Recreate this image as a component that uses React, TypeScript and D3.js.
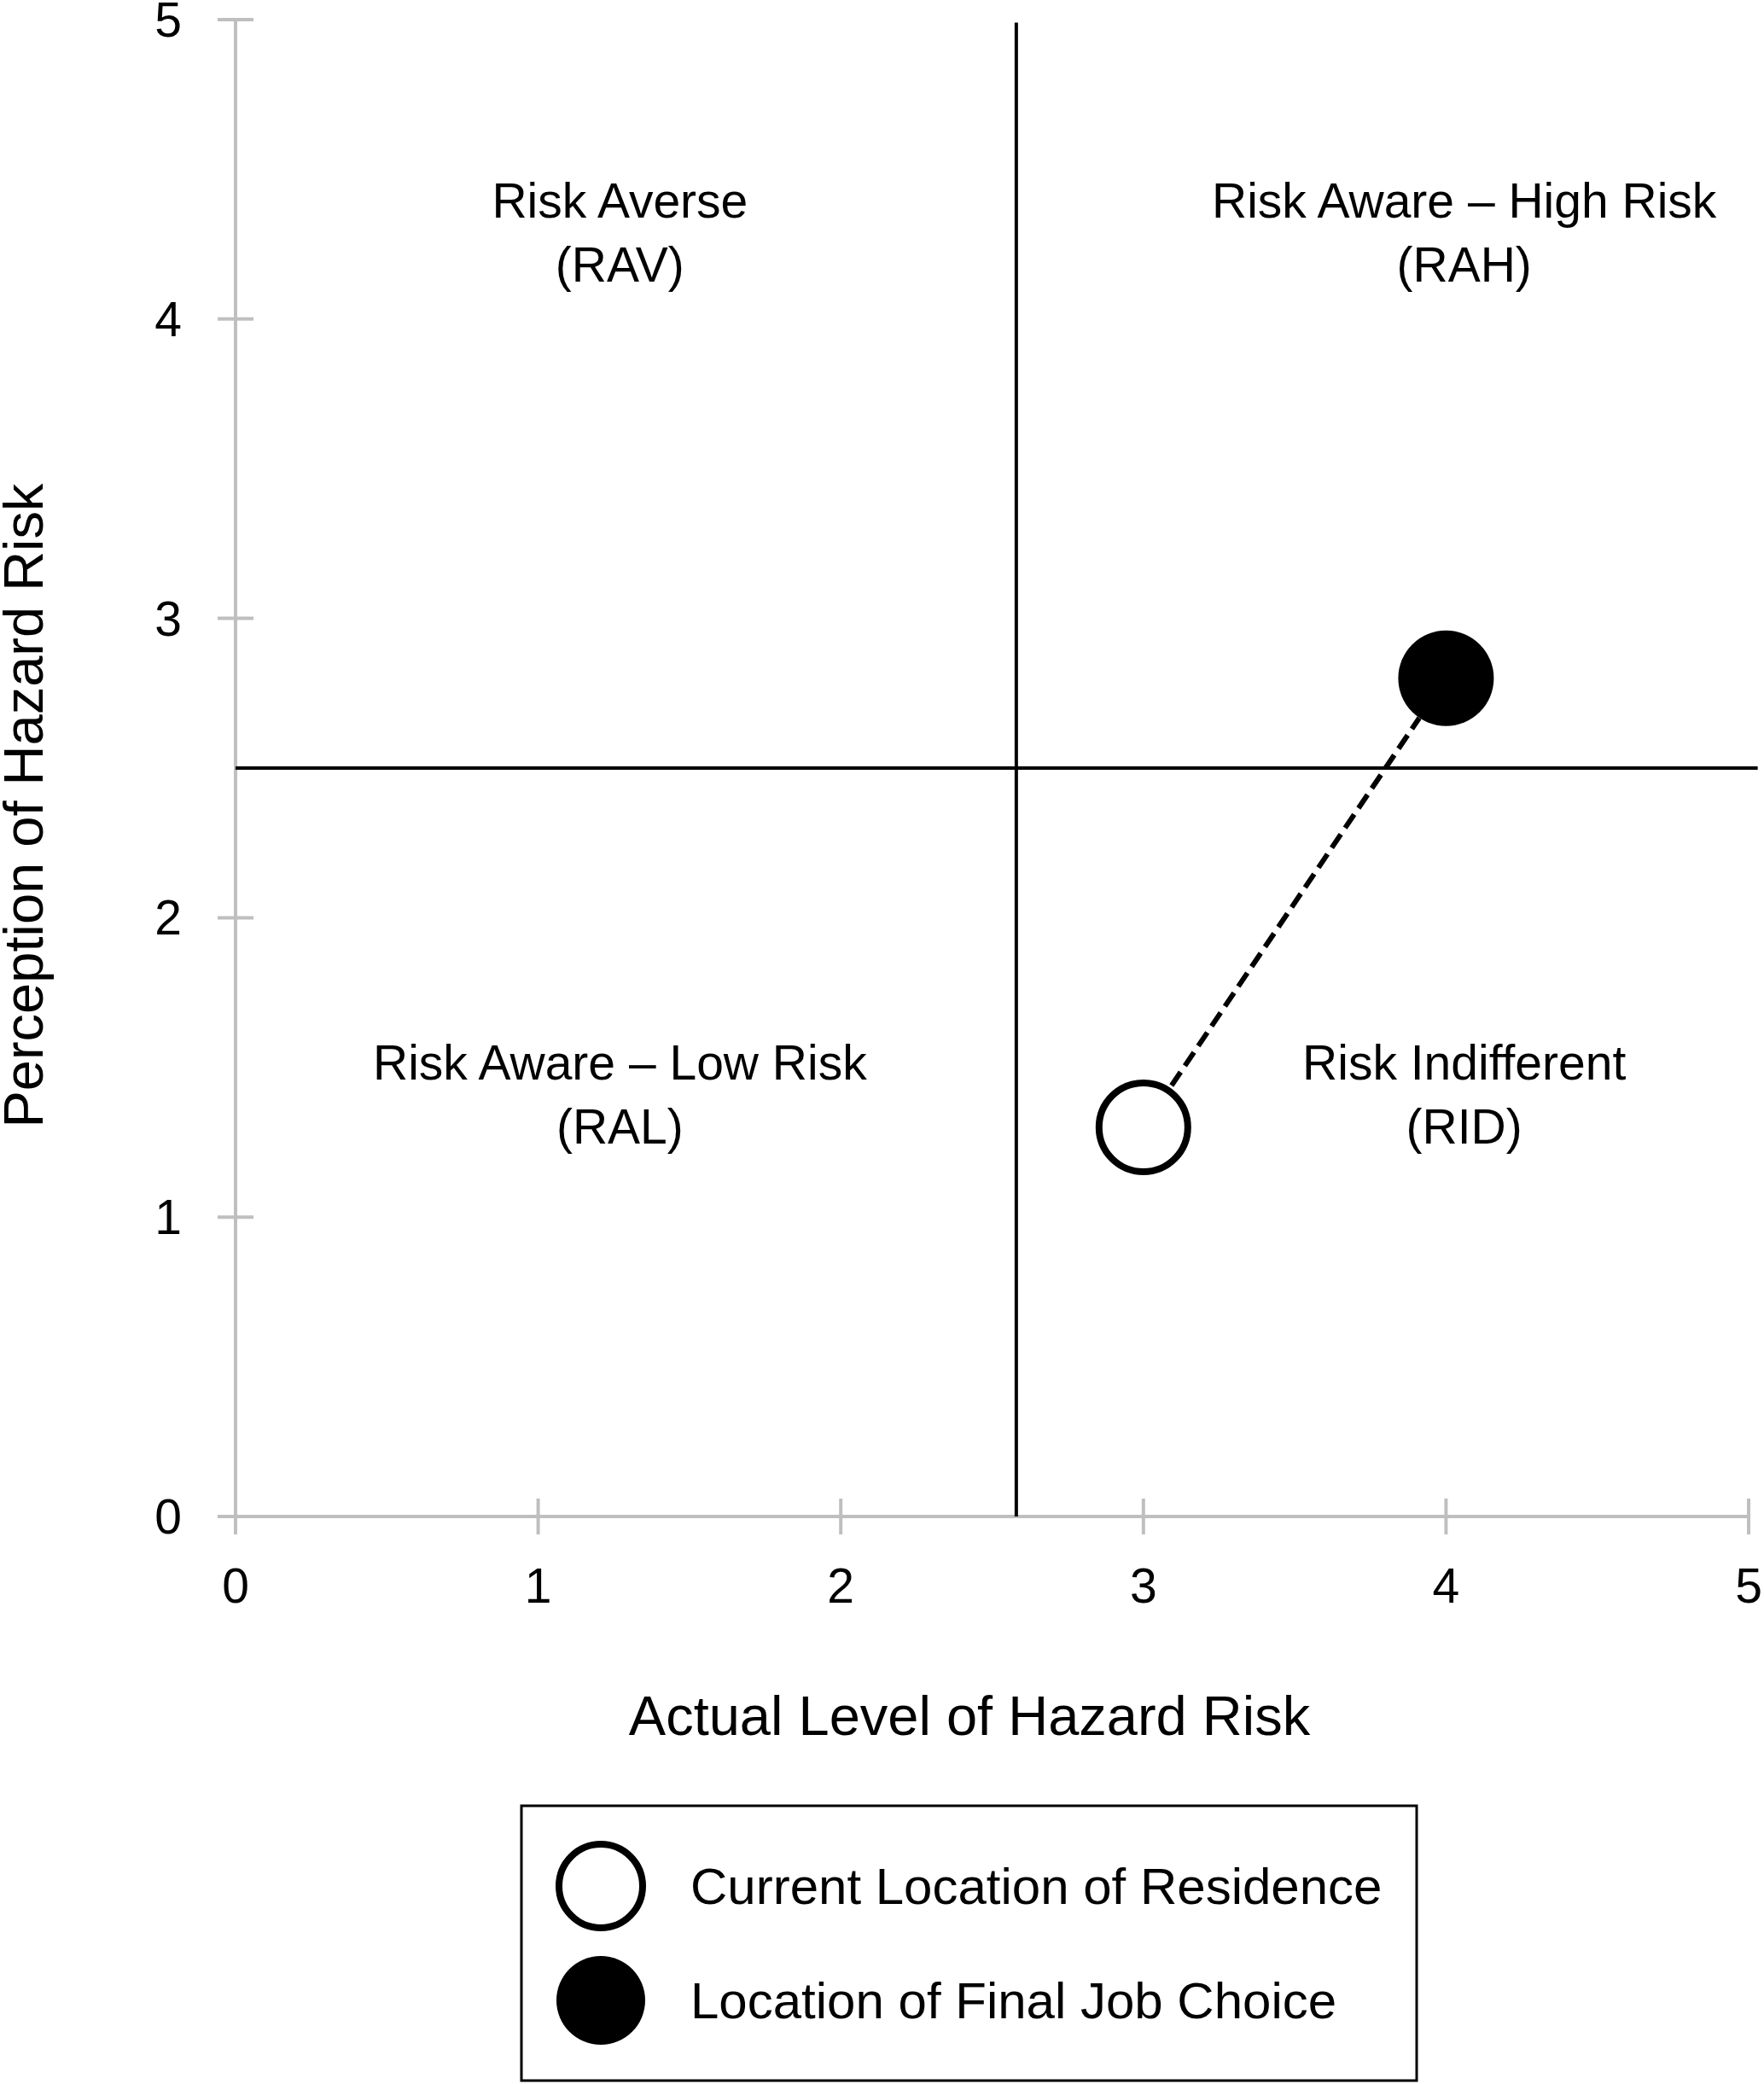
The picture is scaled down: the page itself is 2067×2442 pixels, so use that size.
import { useEffect, useRef } from 'react';
import * as d3 from 'd3';

const xTicks = [0, 1, 2, 3, 4, 5];
const yTicks = [0, 1, 2, 3, 4, 5];
const xTitle = 'Actual Level of Hazard Risk';
const yTitle = 'Perception of Hazard Risk';

// where the quadrant lines cross
const dividerX = 2.58;
const dividerY = 2.5;

const quadNames = ['Risk Averse', 'Risk Aware \u2013 High Risk', 'Risk Aware \u2013 Low Risk', 'Risk Indifferent'];
const quadCodes = ['(RAV)', '(RAH)', '(RAL)', '(RID)'];
const quadX = [1.27, 4.06, 1.27, 4.06];
const quadY = [4.29, 4.29, 1.41, 1.41];

const pointLabels = ['Current Location of Residence', 'Location of Final Job Choice'];
const pointX = [3, 4];
const pointY = [1.3, 2.8];
const pointFilled = [false, true];

const W = 2067;
const H = 2442;
const FONT = '"Liberation Sans", Arial, sans-serif';

const App = () => {
  const svgRef = useRef<SVGSVGElement | null>(null);

  useEffect(() => {
    if (!svgRef.current) return;
    const svg = d3.select(svgRef.current);
    svg.selectAll('*').remove();

    const x = d3.scaleLinear().domain([0, 5]).range([276, 2049]);
    const y = d3.scaleLinear().domain([0, 5]).range([1777, 23]);
    const axisColor = '#bfbfbf';

    // axes
    svg.append('line')
      .attr('x1', x(0)).attr('x2', x(5))
      .attr('y1', y(0)).attr('y2', y(0))
      .attr('stroke', axisColor).attr('stroke-width', 4);
    svg.append('line')
      .attr('x1', x(0)).attr('x2', x(0))
      .attr('y1', y(0)).attr('y2', y(5))
      .attr('stroke', axisColor).attr('stroke-width', 4);

    svg.selectAll('line.xtick')
      .data(xTicks)
      .enter()
      .append('line')
      .attr('class', 'xtick')
      .attr('x1', d => x(d)).attr('x2', d => x(d))
      .attr('y1', y(0) - 21).attr('y2', y(0) + 21)
      .attr('stroke', axisColor).attr('stroke-width', 4);

    svg.selectAll('line.ytick')
      .data(yTicks)
      .enter()
      .append('line')
      .attr('class', 'ytick')
      .attr('x1', x(0) - 21).attr('x2', x(0) + 21)
      .attr('y1', d => y(d)).attr('y2', d => y(d))
      .attr('stroke', axisColor).attr('stroke-width', 4);

    svg.selectAll('text.xlabel')
      .data(xTicks)
      .enter()
      .append('text')
      .attr('class', 'xlabel')
      .attr('x', d => x(d))
      .attr('y', y(0) + 101)
      .attr('text-anchor', 'middle')
      .attr('font-family', FONT)
      .attr('font-size', 57)
      .text(d => d);

    svg.selectAll('text.ylabel')
      .data(yTicks)
      .enter()
      .append('text')
      .attr('class', 'ylabel')
      .attr('x', x(0) - 63)
      .attr('y', d => y(d) + 20)
      .attr('text-anchor', 'end')
      .attr('font-family', FONT)
      .attr('font-size', 57)
      .text(d => d);

    // titles
    svg.append('text')
      .attr('x', 1136)
      .attr('y', 2033)
      .attr('text-anchor', 'middle')
      .attr('font-family', FONT)
      .attr('font-size', 65)
      .text(xTitle);

    svg.append('text')
      .attr('transform', `translate(50, 944) rotate(-90)`)
      .attr('text-anchor', 'middle')
      .attr('font-family', FONT)
      .attr('font-size', 65)
      .text(yTitle);

    // quadrant lines
    svg.append('line')
      .attr('x1', x(dividerX)).attr('x2', x(dividerX))
      .attr('y1', y(0)).attr('y2', y(4.99))
      .attr('stroke', '#000').attr('stroke-width', 4);
    svg.append('line')
      .attr('x1', x(0)).attr('x2', x(5.03))
      .attr('y1', y(dividerY)).attr('y2', y(dividerY))
      .attr('stroke', '#000').attr('stroke-width', 4);

    // quadrant labels
    quadNames.forEach((name, i) => {
      svg.append('text')
        .attr('x', x(quadX[i]))
        .attr('y', y(quadY[i]) - 37 + 20)
        .attr('text-anchor', 'middle')
        .attr('font-family', FONT)
        .attr('font-size', 57)
        .text(name);
      svg.append('text')
        .attr('x', x(quadX[i]))
        .attr('y', y(quadY[i]) + 38 + 20)
        .attr('text-anchor', 'middle')
        .attr('font-family', FONT)
        .attr('font-size', 57)
        .text(quadCodes[i]);
    });

    // dashed move line, edge to edge
    const r = 56;
    const x0 = x(pointX[0]), y0 = y(pointY[0]);
    const x1 = x(pointX[1]), y1 = y(pointY[1]);
    const len = Math.hypot(x1 - x0, y1 - y0);
    const ux = (x1 - x0) / len, uy = (y1 - y0) / len;
    svg.append('line')
      .attr('x1', x0 + ux * (r + 3)).attr('y1', y0 + uy * (r + 3))
      .attr('x2', x1 - ux * r).attr('y2', y1 - uy * r)
      .attr('stroke', '#000')
      .attr('stroke-width', 6)
      .attr('stroke-dasharray', '19 9');

    svg.selectAll('circle.pt')
      .data(pointX)
      .enter()
      .append('circle')
      .attr('class', 'pt')
      .attr('cx', d => x(d))
      .attr('cy', (_, i) => y(pointY[i]))
      .attr('r', (_, i) => (pointFilled[i] ? r : r - 4))
      .attr('fill', (_, i) => (pointFilled[i] ? '#000' : '#fff'))
      .attr('stroke', '#000')
      .attr('stroke-width', (_, i) => (pointFilled[i] ? 0 : 8));

    // legend
    const lg = svg.append('g');
    lg.append('rect')
      .attr('x', 611).attr('y', 2116)
      .attr('width', 1049).attr('height', 322)
      .attr('fill', '#fff')
      .attr('stroke', '#000')
      .attr('stroke-width', 3);
    pointLabels.forEach((label, i) => {
      const cy = 2210 + i * 134;
      lg.append('circle')
        .attr('cx', 704).attr('cy', cy)
        .attr('r', pointFilled[i] ? 52 : 49)
        .attr('fill', pointFilled[i] ? '#000' : '#fff')
        .attr('stroke', '#000')
        .attr('stroke-width', pointFilled[i] ? 0 : 8);
      lg.append('text')
        .attr('x', 809)
        .attr('y', cy + 21)
        .attr('font-family', FONT)
        .attr('font-size', 60)
        .text(label);
    });
  }, []);

  return (
    <svg
      ref={svgRef}
      width={W}
      height={H}
      style={{ position: 'absolute', left: 0, top: 0, background: '#fff' }}
    ></svg>
  );
};

export default App;
